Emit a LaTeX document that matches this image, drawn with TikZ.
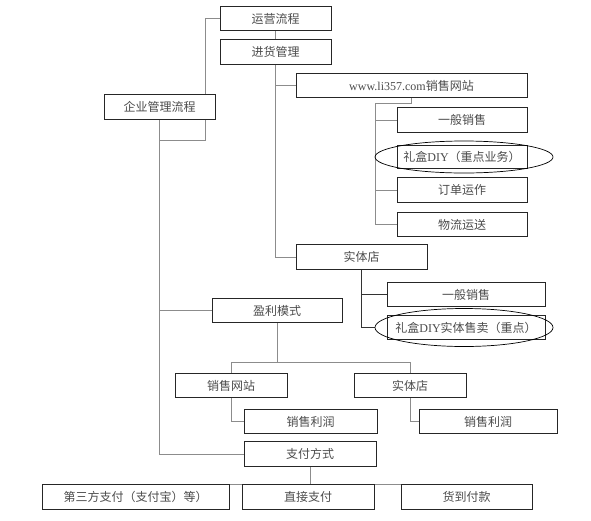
\documentclass[tikz,border=0pt]{standalone}
\usepackage{fontspec}
\setmainfont{Liberation Serif}
\newfontfamily\cjk{Noto Sans CJK SC}
\usetikzlibrary{shapes.geometric,backgrounds}
\newcommand\latn[1]{{\rmfamily #1}}

\tikzset{
  box/.style={draw=black!85, line width=0.9pt, fill=white, text=black!70,
    minimum height=24.5pt, inner sep=0pt, font=\cjk\fontsize{12}{14}\selectfont},
  link/.style={draw=black!45, line width=0.6pt},
  darklink/.style={draw=black!80, line width=0.6pt},
  mark ring/.style={ellipse, draw=black, line width=0.7pt, inner sep=0pt}
}

\begin{document}
\begin{tikzpicture}[x=1pt, y=-1pt]
    \useasboundingbox (0,0) rectangle (591,520);

    % top level
    \node[box, minimum width=111pt] (yy) at (275.5,18.5) {运营流程};
    \node[box, minimum width=111pt] (jh) at (275.5,52) {进货管理};
    \node[box, minimum width=111pt] (qy) at (159.5,107) {企业管理流程};
    \coordinate (yyturn) at (205,140);

    % website branch
    \node[box, minimum width=231pt] (www) at (411.5,85.5) {\latn{www.li357.com}销售网站};
    \node[box, minimum width=130pt] (ybxs1) at (462,120) {一般销售};
    \node[box, minimum width=130pt, minimum height=23pt] (lh1) at (462,156.5) {礼盒\latn{DIY}（重点业务）};
    \node[box, minimum width=130pt] (dd) at (462,190) {订单运作};
    \node[box, minimum width=130pt] (wl) at (462,224.5) {物流运送};
    \node[mark ring, minimum width=178pt, minimum height=32pt] (lh1e) at (464,157) {};
    \coordinate (wtrunk) at (375,103);

    % shop branch
    \node[box, minimum width=131pt] (st1) at (361.5,257) {实体店};
    \node[box, minimum width=158pt] (ybxs2) at (466,294.5) {一般销售};
    \node[box, minimum width=158pt] (lh2) at (466,327.5) {礼盒\latn{DIY}实体售卖（重点）};
    \node[mark ring, minimum width=178pt, minimum height=38pt] (lh2e) at (464,327.5) {};

    % profit model
    \node[box, minimum width=130pt] (ylms) at (277,310.5) {盈利模式};
    \node[box, minimum width=112pt] (xswz) at (231,385.5) {销售网站};
    \node[box, minimum width=112pt] (st2) at (410,385.5) {实体店};
    \node[box, minimum width=133pt] (xslr1) at (310.5,421.5) {销售利润};
    \node[box, minimum width=138pt] (xslr2) at (488,421.5) {销售利润};
    \coordinate (ylsplit) at (277,362);

    % payment
    \node[box, minimum width=132pt] (zffs) at (310,454) {支付方式};
    \node[box, minimum width=187pt] (dsf) at (135.5,497) {第三方支付（支付宝）等）};
    \node[box, minimum width=132pt] (zj) at (308,497) {直接支付};
    \node[box, minimum width=131pt] (hd) at (466.5,497) {货到付款};
    \coordinate (zfsplit) at (310,484);

    % connectors, behind the boxes
    \begin{pgfonlayer}{background}
    \path[link] (yy.west) -| (yyturn) -| (qy.south);
    \path[link] (yy.south) -- (jh.north);
    \path[link] (jh.south) |- (www.west);
    \path[link] (jh.south) |- (st1.west);
    \path[link] (qy.south) |- (ylms.west);
    \path[link] (qy.south) |- (zffs.west);
    \path[link] (www.south) |- (wtrunk);
    \path[link] (wtrunk) |- (ybxs1.west);
    \path[link] (wtrunk) |- (dd.west);
    \path[link] (wtrunk) |- (wl.west);
    \path[darklink] (st1.south) |- (ybxs2.west);
    \path[darklink] (st1.south) |- (lh2e.west);
    \path[link] (ylms.south) -- (ylsplit);
    \path[link] (ylsplit) -| (xswz.north);
    \path[link] (ylsplit) -| (st2.north);
    \path[link] (xswz.south) |- (xslr1.west);
    \path[link] (st2.south) |- (xslr2.west);
    \path[link] (zffs.south) -- (zfsplit);
    \path[link] (zfsplit) -| (dsf.north);
    \path[link] (zfsplit) -| (zj.north);
    \path[link] (zfsplit) -| (hd.north);
    \end{pgfonlayer}
\end{tikzpicture}
\end{document}
